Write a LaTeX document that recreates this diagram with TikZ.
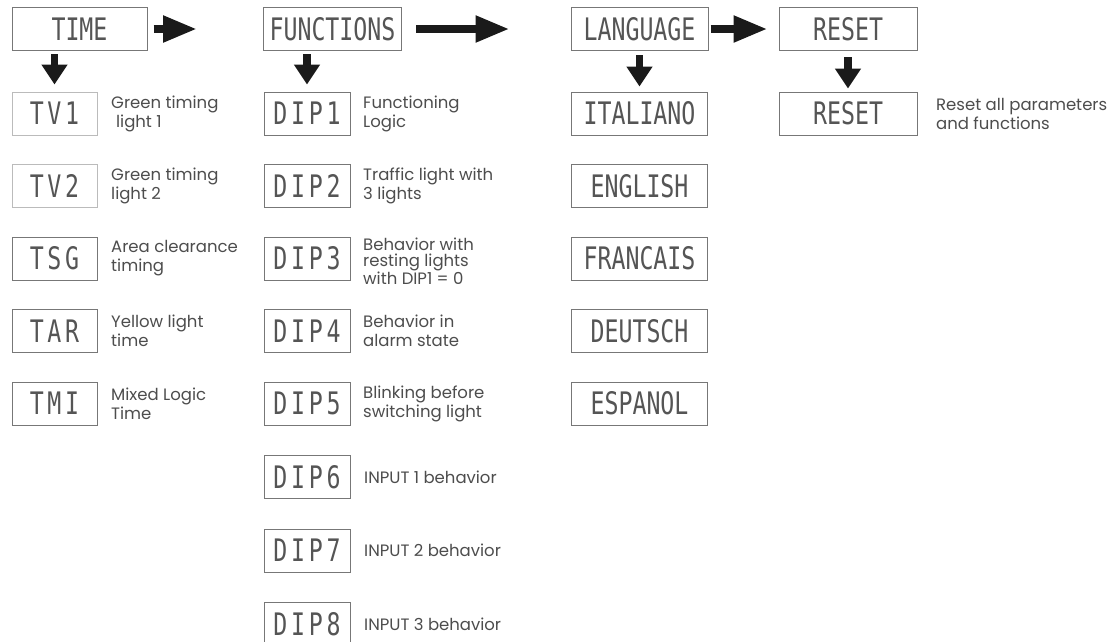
\documentclass[tikz,border=0pt]{standalone}
\usepackage{fontspec}
\setmainfont{Poppins}
\newfontfamily\lcd[FakeStretch=0.75]{DejaVu Sans Mono}
\newfontfamily\lcdw[FakeStretch=0.75,LetterSpace=12]{DejaVu Sans Mono}
\usetikzlibrary{arrows.meta}
\definecolor{txt}{HTML}{4D4D4D}
\definecolor{lcdtxt}{HTML}{555555}
\definecolor{frame}{HTML}{777777}
\definecolor{lightframe}{HTML}{BBBBBB}
\definecolor{arr}{HTML}{1A1A1A}
\begin{document}
\begin{tikzpicture}[x=1pt,y=-1pt,
  disp/.style={draw=frame, line width=1pt, minimum height=43pt, inner sep=0pt,
    font=\lcd\fontsize{31}{31}\selectfont, text=lcdtxt},
  dispw/.style={disp, font=\lcdw\fontsize{31}{31}\selectfont},
  lbl/.style={anchor=west, align=left, inner sep=0pt,
    font=\fontsize{16.5}{19}\selectfont, text=txt},
  harrow/.style={draw=arr, line width=8pt, -{Triangle[length=34pt,width=25pt]}},
  varrow/.style={draw=arr, line width=7.5pt, -{Triangle[length=20pt,width=25pt]}},
]
\fill[white] (0,0) rectangle (1119,641);
\useasboundingbox (0,0) rectangle (1119,641);

% header row
\node[disp, minimum width=135pt] (time)  at (79.5,29) {TIME};
\node[disp, minimum width=138pt] (func)  at (332.5,29) {FUNCTIONS};
\node[disp, minimum width=137pt] (lang)  at (639.5,29) {LANGUAGE};
\node[disp, minimum width=138pt] (reset) at (848,29) {RESET};

% TIME column
\node[dispw, draw=lightframe, minimum width=85pt] (tv1) at (54.5,113.5) {TV1};
\node[dispw, draw=lightframe, minimum width=85pt] (tv2) at (54.5,186) {TV2};
\node[dispw, minimum width=85pt] (tsg) at (54.5,258.5) {TSG};
\node[dispw, minimum width=85pt] (tar) at (54.5,331) {TAR};
\node[dispw, minimum width=85pt] (tmi) at (54.5,403.5) {TMI};

\node[lbl] (ltv1) at (111,113.5) {Green timing\\\hspace{0.3em}light 1};
\node[lbl] (ltv2) at (111,186) {Green timing\\light 2};
\node[lbl] (ltsg) at (111,258.5) {Area clearance\\timing};
\node[lbl] (ltar) at (111,331) {Yellow light\\time};
\node[lbl] (ltmi) at (111,403.5) {Mixed Logic\\Time};

% FUNCTIONS column
\node[dispw, minimum width=86pt] (dip1) at (307,113.5) {DIP1};
\node[dispw, minimum width=86pt] (dip2) at (307,186) {DIP2};
\node[dispw, minimum width=86pt] (dip3) at (307,258.5) {DIP3};
\node[dispw, minimum width=86pt] (dip4) at (307,331) {DIP4};
\node[dispw, minimum width=86pt] (dip5) at (307,403.5) {DIP5};
\node[dispw, minimum width=86pt] (dip6) at (307,477) {DIP6};
\node[dispw, minimum width=86pt] (dip7) at (307,550.5) {DIP7};
\node[dispw, minimum width=86pt] (dip8) at (307,624) {DIP8};

\node[lbl] (ldip1) at (363,113.5) {Functioning\\Logic};
\node[lbl] (ldip2) at (363,186) {Traffic light with\\3 lights};
\node[lbl, font=\fontsize{16.5}{15.5}\selectfont] (ldip3) at (363,261) {Behavior with\\resting lights\\with DIP1 = 0};
\node[lbl] (ldip4) at (363,331) {Behavior in\\alarm state};
\node[lbl] (ldip5) at (363,403.5) {Blinking before\\switching light};
\node[lbl] (ldip6) at (364,477) {INPUT 1 behavior};
\node[lbl] (ldip7) at (364,550.5) {INPUT 2 behavior};
\node[lbl] (ldip8) at (364,624) {INPUT 3 behavior};

% LANGUAGE column
\node[disp, minimum width=136pt] (ita) at (639.5,113.5) {ITALIANO};
\node[disp, minimum width=136pt] (eng) at (639.5,186) {ENGLISH};
\node[disp, minimum width=136pt] (fra) at (639.5,258.5) {FRANCAIS};
\node[disp, minimum width=136pt] (deu) at (639.5,331) {DEUTSCH};
\node[disp, minimum width=136pt] (esp) at (639.5,403.5) {ESPANOL};

% RESET column
\node[disp, minimum width=138pt] (reset2) at (848,113.5) {RESET};
\node[lbl] (lreset) at (936,113.5) {Reset all parameters\\and functions};

% horizontal arrows
\draw[harrow, shorten <=6pt, shorten >=66pt] (time.east) -- (func.west);
\draw[harrow, shorten <=14pt, shorten >=61pt] (func.east) -- (lang.west);
\draw[harrow, shorten <=2pt, shorten >=11pt] (lang.east) -- (reset.west);

% vertical arrows
\draw[varrow, shorten <=3pt, shorten >=7pt] (tv1.north |- time.south) -- (tv1.north);
\draw[varrow, shorten <=3pt, shorten >=7pt] (dip1.north |- func.south) -- (dip1.north);
\draw[varrow, shorten <=4pt, shorten >=5pt] (lang.south) -- (ita.north);
\draw[varrow, shorten <=6pt, shorten >=3pt] (reset.south) -- (reset2.north);
\end{tikzpicture}
\end{document}
